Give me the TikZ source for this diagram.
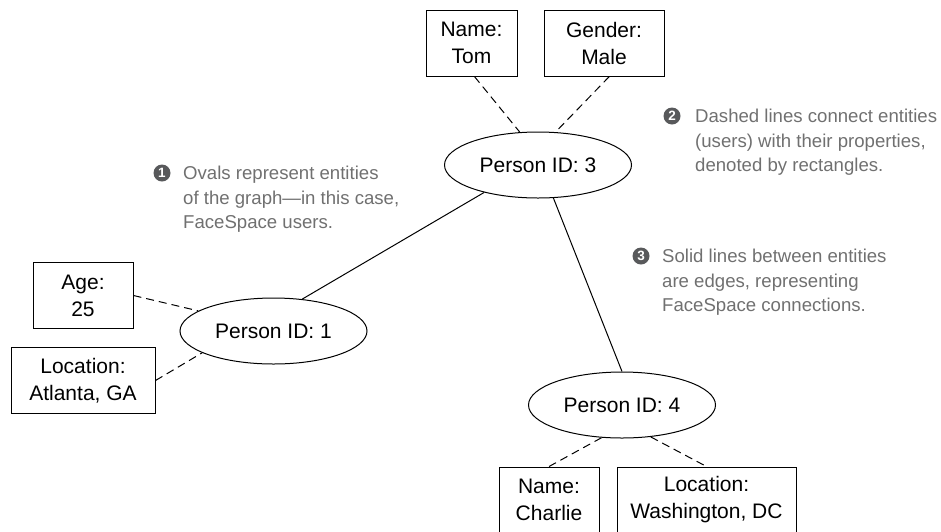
\documentclass[tikz,border=0pt]{standalone}
\usepackage{fontspec}
\setmainfont{Liberation Sans}
\usepackage{xcolor}
\usepackage{tikz}
\usetikzlibrary{shapes.geometric}
\usetikzlibrary{positioning}

\definecolor{notegray}{HTML}{707070}
\definecolor{bulletgray}{HTML}{58595B}

\tikzset{
  entity/.style={draw, ellipse, line width=1pt, minimum width=187pt,
    minimum height=66pt, inner sep=0pt, font=\fontsize{21}{27}\selectfont},
  prop/.style={draw, rectangle, line width=1pt, minimum height=66pt,
    inner sep=0pt, align=center, font=\fontsize{21}{27}\selectfont},
  link/.style={line width=1pt},
  proplink/.style={line width=1pt, dash pattern=on 8pt off 5pt},
  note/.style={align=left, anchor=north west, inner sep=0pt, text=notegray,
    font=\fontsize{18.6}{24.5}\selectfont},
  bullet/.style={circle, fill=bulletgray, text=white, inner sep=0pt,
    minimum size=17pt, font=\fontsize{13.5}{13.5}\selectfont\bfseries}
}

\begin{document}
\begin{tikzpicture}[x=1pt, y=-1pt]
    \useasboundingbox (0,0) rectangle (941,531);

    % entities
    \node[entity] (p3) at (538,165) {Person ID: 3};
    \node[entity] (p1) at (273.5,331) {Person ID: 1};
    \node[entity] (p4) at (622,405) {Person ID: 4};

    % properties
    \node[prop, minimum width=91pt] (tom) at (471.5,43) {Name:\\Tom};
    \node[prop, minimum width=120pt, right=26pt of tom] (gender) {Gender:\\Male};
    \node[prop, minimum width=100pt] (age) at (83,295.5) {Age:\\25};
    \node[prop, minimum width=144pt, below=18pt of age] (atlanta) {Location:\\Atlanta, GA};
    \node[prop, minimum width=100pt] (charlie) at (549,500) {Name:\\Charlie};
    \node[prop, minimum width=179pt, right=17pt of charlie] (washington) {Location:\\Washington, DC};

    % edges between entities
    \draw [link] (p1.48) -- (p3.207);
    \draw [link] (p3.295) -- (p4.north);

    % entities to their properties
    \draw [proplink] (tom.275) -- (p3.119);
    \draw [proplink] (gender.279) -- (p3.62);
    \draw [proplink] (age.east) -- (p1.165);
    \draw [proplink] (atlanta.east) -- (p1.197);
    \draw [proplink] (p4.238) -- (charlie.north);
    \draw [proplink] (p4.312) -- (washington.north);

    % callouts
    \node[bullet] (b1) at (162,173) {1};
    \node[note] (note1) at (183,166) {Ovals represent entities\\of the graph—in this case,\\FaceSpace users.};
    \node[bullet] (b2) at (672,116) {2};
    \node[note] (note2) at (695,109) {Dashed lines connect entities\\(users) with their properties,\\denoted by rectangles.};
    \node[bullet] (b3) at (641,256) {3};
    \node[note] (note3) at (662,249) {Solid lines between entities\\are edges, representing\\FaceSpace connections.};

  \end{tikzpicture}
\end{document}
